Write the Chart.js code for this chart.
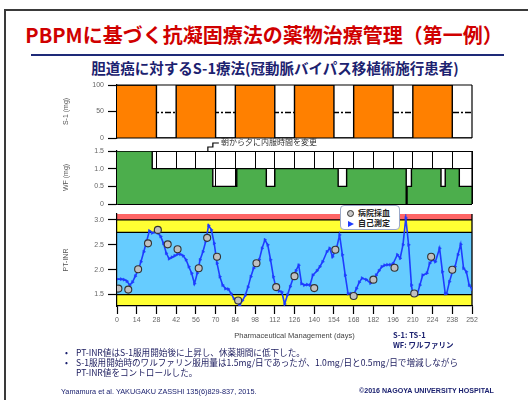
<!DOCTYPE html>
<html lang="ja">
<head>
<meta charset="utf-8">
<title>PBPM 抗凝固療法</title>
<script src="https://cdn.jsdelivr.net/npm/chart.js@4.4.1/dist/chart.umd.min.js"></script>
<style>
  html, body { margin: 0; padding: 0; background: #fff; }
  body { width: 528px; height: 400px; position: relative; overflow: hidden;
         font-family: "Noto Sans CJK JP", "Noto Sans", sans-serif; }
  .frame { position: absolute; left: 4px; top: 9px; width: 600px; height: 500px;
           border-left: 2px solid #3a3a3a; border-top: 2px solid #3a3a3a; }
  .title { position: absolute; left: 0; width: 528px; top: 21px; text-align: center;
           color: #d00000; font-weight: 700; font-size: 20px; line-height: 28px; white-space: nowrap; }
  .rule { position: absolute; left: 31px; width: 473px; top: 54px; height: 2px; background: #1e2a78; }
  .subtitle { position: absolute; left: 22px; width: 506px; top: 60px; text-align: center;
              color: #1c2270; font-weight: 700; font-size: 14.5px; line-height: 16px; white-space: nowrap; }
  canvas { position: absolute; left: 0; top: 0; }
  .legend { position: absolute; left: 340px; top: 205px; width: 60px; height: 25px; box-sizing: border-box;
            background: #fff; border: 1px solid #9aa8c8; border-radius: 4px; z-index: 5;
            font-size: 8px; font-weight: 700; color: #222; line-height: 10px; padding: 2px 0 0 6px; }
  .legend div { height: 10px; white-space: nowrap; }
  .mk { display: inline-block; vertical-align: middle; margin-right: 4px; }
  .circ { width: 5px; height: 5px; border: 1px solid #333; border-radius: 50%; background: #c8c8c8; }
  .tri { width: 0; height: 0; border-top: 3.5px solid transparent; border-bottom: 3.5px solid transparent;
         border-left: 6px solid #1e3cff; margin-left: 1px; }
  .note { position: absolute; left: 221px; top: 137px; font-size: 8px; line-height: 10px; color: #333;
          white-space: nowrap; z-index: 5; }
  .abbr { position: absolute; left: 393px; top: 330px; font-size: 7.5px; line-height: 9.5px;
          font-weight: 700; color: #1c2270; }
  .bullets { position: absolute; left: 64px; top: 347px; font-size: 8.6px; line-height: 10px; color: #1c1c5e; }
  .bullets div { position: relative; padding-left: 12px; white-space: nowrap; }
  .bullets div.b::before { content: "\2022"; position: absolute; left: 1px; top: 0; color: #1c2270; }
  .cite { position: absolute; left: 61px; top: 387px; font-family: "Liberation Sans", Arial, sans-serif;
          font-size: 7.3px; line-height: 9px; color: #1c2270; white-space: nowrap; }
  .copy { position: absolute; left: 359px; top: 387px; font-family: "Liberation Sans", Arial, sans-serif;
          font-size: 7.1px; line-height: 9px; font-weight: 700; color: #1c2270; white-space: nowrap; }
</style>
</head>
<body>
<div class="frame"></div>
<div class="title">PBPMに基づく抗凝固療法の薬物治療管理（第一例）</div>
<div class="rule"></div>
<div class="subtitle">胆道癌に対するS-1療法(冠動脈バイパス移植術施行患者)</div>

<canvas id="s1Chart" width="528" height="400"></canvas>
<canvas id="wfChart" width="528" height="400"></canvas>
<canvas id="inrChart" width="528" height="400"></canvas>

<div class="note">朝から夕に内服時間を変更</div>
<div class="legend">
  <div><span class="mk circ"></span>病院採血</div>
  <div><span class="mk tri"></span>自己測定</div>
</div>
<div class="abbr">S-1: TS-1<br>WF: ワルファリン</div>
<div class="bullets">
  <div class="b">PT-INR値はS-1服用開始後に上昇し、休薬期間に低下した。</div>
  <div class="b">S-1服用開始時のワルファリン服用量は1.5mg/日であったが、1.0mg/日と0.5mg/日で増減しながら</div>
  <div>PT-INR値をコントロールした。</div>
</div>
<div class="cite">Yamamura et al. YAKUGAKU ZASSHI 135(6)829-837, 2015.</div>
<div class="copy">©2016 NAGOYA UNIVERSITY HOSPITAL</div>

<script>
// shared day axis (Pharmaceutical Management, days)
const xTicks = [0, 14, 28, 42, 56, 70, 84, 98, 112, 126, 140, 154, 168, 182, 196, 210, 224, 238, 252];

// S-1 (mg): dose from each day until the next entry
const s1Days = [0, 28, 42, 70, 84, 112, 126, 154, 168, 196, 210, 238, 252];
const s1Dose = [100, 0, 100, 0, 100, 0, 100, 0, 100, 0, 100, 0, 0];
const s1Ticks = [0, 50, 100];
const s1RefLine = 50;

// Warfarin (mg/day): dose from each day until the next entry
const wfDays = [0, 25, 68, 85, 106, 112, 157, 163, 205.3, 205.9, 209, 230, 233, 243, 252];
const wfDose = [1.5, 1.0, 0.5, 1.0, 0.5, 1.0, 0.5, 1.0, 0, 0.5, 1.0, 0.5, 1.0, 0.5, 0.5];
const wfTicks = [0, 0.5, 1.0, 1.5];
const timingChangeDay = 64.5;

// PT-INR, self measured
const selfDays = [0, 3, 5, 7, 9, 11, 13, 15, 17, 19,
  21, 23, 25, 27, 29, 31, 33, 35, 37, 39,
  41, 43, 45, 47, 49, 51, 53, 55, 57, 59,
  61, 63, 65, 67, 69, 71, 73, 75, 77, 79,
  81, 83, 85, 87, 89, 91, 93, 95, 97, 99,
  101, 103, 105, 107, 109, 111, 113, 115, 117, 119,
  121, 123, 125, 127, 129, 131, 133, 135, 137, 139,
  142, 144, 146, 149, 151, 153, 156, 158, 160, 162,
  164, 166, 168, 170, 172, 174, 177, 180, 182, 184,
  186, 188, 190, 192, 194, 196, 199, 201, 203, 205,
  207, 209, 210, 213, 215, 217, 220, 222, 224, 226,
  229, 231, 233, 234, 236, 238, 240, 242, 244, 246,
  248, 250, 252];
const selfInr = [1.81, 1.81, 1.80, 1.77, 1.69, 1.75, 1.87, 1.99, 2.16, 2.36,
  2.57, 2.78, 2.74, 2.76, 2.74, 2.67, 2.53, 2.33, 2.22, 2.25,
  2.28, 2.31, 2.31, 2.28, 2.20, 2.06, 1.93, 1.72, 1.93, 2.20,
  2.36, 2.57, 2.89, 2.80, 2.53, 2.13, 1.86, 1.69, 1.62, 1.61,
  1.52, 1.42, 1.35, 1.28, 1.38, 1.48, 1.65, 1.86, 2.03, 2.11,
  2.20, 2.43, 2.60, 2.50, 2.20, 1.86, 1.62, 1.57, 1.55, 1.31,
  1.49, 1.66, 1.83, 1.98, 2.09, 1.72, 1.69, 1.70, 1.69, 1.89,
  1.98, 2.06, 2.16, 2.36, 2.43, 2.26, 2.45, 2.70, 2.30, 1.89,
  1.52, 1.52, 1.50, 1.62, 1.75, 1.83, 1.80, 1.73, 1.78, 1.89,
  1.98, 2.06, 2.09, 2.10, 2.10, 2.12, 2.30, 2.23, 2.50, 3.04,
  2.50, 1.69, 1.50, 1.49, 1.69, 1.89, 1.93, 2.13, 2.20, 2.16,
  2.43, 1.96, 1.52, 1.52, 1.76, 1.95, 2.06, 2.30, 2.51, 2.03,
  1.96, 1.69, 1.61];

// PT-INR, hospital blood test
const hospDays = [1, 8, 15, 22, 29, 36, 43, 58, 64, 71, 86, 99, 113, 126, 140, 155, 168, 182, 197, 211, 223, 238];
const hospInr = [1.62, 1.60, 2.01, 2.53, 2.80, 2.51, 2.41, 2.03, 2.64, 2.26, 1.38, 2.13, 1.65, 1.87, 1.63, 2.40, 1.47, 1.80, 2.04, 1.52, 2.26, 2.00];
const inrTicks = [1.5, 2.0, 2.5, 3.0];
const inrMin = 1.27;
const inrMax = 3.12;

// PT-INR background ranges
const bandFrom = [1.27, 1.5, 2.75, 3.0];
const bandTo = [1.5, 2.75, 3.0, 3.12];
const bandColors = ["#ffff33", "#66ccff", "#ffff33", "#ff6666"];
const bandLines = [1.5, 2.75, 3.0];

const PAD_LEFT = 62;
const PLOT_LEFT = 117;
const PLOT_RIGHT = 472;
const tickFont = { family: "'Liberation Sans', Arial, sans-serif", size: 7 };
const tickColor = "#666";

function fixedTicks(values) {
  return (scale) => { scale.ticks = values.map((v) => ({ value: v })); };
}

function fmtTick(v) {
  if (v === 0) return "0";
  return v >= 10 ? String(v) : v.toFixed(1);
}

function leftAxis(min, max, ticks, title, grid) {
  return {
    type: "linear",
    position: "left",
    min, max,
    afterBuildTicks: fixedTicks(ticks),
    afterFit: (s) => { s.width = PLOT_LEFT - PAD_LEFT; },
    border: { display: true, color: "#000", width: 1.2 },
    grid: Object.assign({ drawTicks: true, tickLength: 9, tickColor: "#000", tickWidth: 1.2, drawOnChartArea: false }, grid || {}),
    ticks: { font: tickFont, color: tickColor, padding: 4, callback: fmtTick },
    title: { display: true, text: title, color: "#555", font: { family: tickFont.family, size: 7 }, padding: { top: 0, bottom: 0 } }
  };
}

function pts(xs, ys) {
  return xs.map((x, i) => ({ x, y: ys[i] }));
}

// Draws solid edges of the plot area
const framePlugin = {
  id: "frame",
  afterDatasetsDraw(chart, args, opts) {
    const { ctx, chartArea: a } = chart;
    ctx.save();
    ctx.strokeStyle = "#000";
    ctx.lineWidth = 1.2;
    ctx.beginPath();
    (opts.sides || []).forEach((s) => {
      if (s === "top") { ctx.moveTo(a.left, a.top); ctx.lineTo(a.right, a.top); }
      if (s === "bottom") { ctx.moveTo(a.left, a.bottom); ctx.lineTo(a.right, a.bottom); }
      if (s === "right") { ctx.moveTo(a.right, a.top); ctx.lineTo(a.right, a.bottom); }
    });
    ctx.stroke();
    ctx.restore();
  }
};

// Dash-dot reference line under the S-1 bars
const refLinePlugin = {
  id: "refLine",
  beforeDatasetsDraw(chart) {
    const { ctx, chartArea: a, scales: { y } } = chart;
    const py = Math.round(y.getPixelForValue(s1RefLine)) + 0.5;
    ctx.save();
    ctx.strokeStyle = "#000";
    ctx.lineWidth = 1.3;
    ctx.setLineDash([6, 2, 2, 2]);
    ctx.beginPath();
    ctx.moveTo(a.left, py);
    ctx.lineTo(a.right, py);
    ctx.stroke();
    ctx.restore();
  }
};

// Coloured PT-INR ranges behind the curve
const bandPlugin = {
  id: "bands",
  beforeDraw(chart) {
    const { ctx, chartArea: a, scales: { y } } = chart;
    ctx.save();
    bandFrom.forEach((lo, i) => {
      const top = y.getPixelForValue(bandTo[i]);
      const bot = y.getPixelForValue(lo);
      ctx.fillStyle = bandColors[i];
      ctx.fillRect(a.left, top, a.right - a.left, bot - top);
    });
    ctx.strokeStyle = "#000";
    ctx.lineWidth = 1.3;
    ctx.beginPath();
    bandLines.forEach((v) => {
      const py = y.getPixelForValue(v);
      ctx.moveTo(a.left, py);
      ctx.lineTo(a.right, py);
    });
    ctx.moveTo(a.right, a.top);
    ctx.lineTo(a.right, a.bottom);
    ctx.stroke();
    ctx.restore();
  }
};

// Bracket pointing at the day the dosing time changed
const timingPlugin = {
  id: "timing",
  afterDraw(chart) {
    const { ctx, scales: { x, y } } = chart;
    const px = x.getPixelForValue(timingChangeDay);
    const top = y.getPixelForValue(1.5);
    ctx.save();
    ctx.strokeStyle = "#000";
    ctx.lineWidth = 1.2;
    ctx.beginPath();
    ctx.moveTo(px, top + 1);
    ctx.lineTo(px, top - 4);
    ctx.lineTo(px + 5, top - 4);
    ctx.lineTo(px + 5, top - 8);
    ctx.lineTo(px + 11, top - 8);
    ctx.stroke();
    ctx.restore();
  }
};

const baseOptions = (top, bottom) => ({
  animation: false,
  responsive: false,
  layout: { padding: { left: PAD_LEFT, right: 528 - PLOT_RIGHT, top, bottom } },
  plugins: { legend: { display: false }, tooltip: { enabled: false } }
});

// ── S-1 ──────────────────────────────────────────────
const s1Opts = baseOptions(85, 400 - 138);
s1Opts.plugins.frame = { sides: ["top", "bottom", "right"] };
s1Opts.scales = {
  x: { type: "linear", min: 0, max: 252, display: false },
  y: leftAxis(0, 100, s1Ticks, "S-1 (mg)")
};
new Chart(document.getElementById("s1Chart"), {
  type: "line",
  data: {
    datasets: [{
      data: pts(s1Days, s1Dose),
      stepped: true,
      borderColor: "#000",
      borderWidth: 1.4,
      backgroundColor: "#ff8000",
      fill: "origin",
      pointRadius: 0
    }]
  },
  options: s1Opts,
  plugins: [refLinePlugin, framePlugin]
});

// ── Warfarin ─────────────────────────────────────────
const wfOpts = baseOptions(151, 400 - 204);
wfOpts.plugins.frame = { sides: ["right"] };
wfOpts.scales = {
  x: {
    type: "linear", min: 0, max: 252,
    afterBuildTicks: fixedTicks(xTicks),
    afterFit: (s) => { s.height = 0; },
    ticks: { display: false },
    border: { display: false },
    grid: { color: "#000", lineWidth: 1, borderDash: [2, 2], drawTicks: false }
  },
  y: leftAxis(0, 1.5, wfTicks, "WF (mg)", { drawOnChartArea: true, color: "#000", borderDash: [2, 2], lineWidth: 1 })
};
new Chart(document.getElementById("wfChart"), {
  type: "line",
  data: {
    datasets: [{
      data: pts(wfDays, wfDose),
      stepped: true,
      borderColor: "#000",
      borderWidth: 1.4,
      backgroundColor: "#4cae4c",
      fill: "origin",
      pointRadius: 0
    }]
  },
  options: wfOpts,
  plugins: [framePlugin, timingPlugin]
});

// ── PT-INR ───────────────────────────────────────────
const inrOpts = baseOptions(214, 400 - 306 - 36);
inrOpts.scales = {
  x: {
    type: "linear", min: 0, max: 252,
    afterBuildTicks: fixedTicks(xTicks),
    afterFit: (s) => { s.height = 36; },
    border: { display: true, color: "#000", width: 1.2 },
    grid: { drawOnChartArea: false, drawTicks: true, tickLength: 8, tickColor: "#000", tickWidth: 1.2 },
    ticks: { font: tickFont, color: tickColor, padding: 2, maxRotation: 0, autoSkip: false },
    title: {
      display: true, text: "Pharmaceutical Management (days)", color: "#444",
      font: { family: tickFont.family, size: 7.5 }, padding: { top: 0, bottom: 2 }
    }
  },
  y: leftAxis(inrMin, inrMax, inrTicks, "PT-INR")
};
new Chart(document.getElementById("inrChart"), {
  type: "line",
  data: {
    datasets: [{
      label: "病院採血",
      data: pts(hospDays, hospInr),
      showLine: false,
      pointStyle: "circle",
      pointRadius: 3.5,
      pointBackgroundColor: "#c0c0c0",
      pointBorderColor: "#333",
      pointBorderWidth: 1.1,
      order: 0
    }, {
      label: "自己測定",
      data: pts(selfDays, selfInr),
      borderColor: "#1e3cff",
      borderWidth: 1.6,
      tension: 0,
      pointStyle: "triangle",
      rotation: 90,
      pointRadius: 1.8,
      pointBackgroundColor: "#1e3cff",
      pointBorderColor: "#1e3cff",
      pointBorderWidth: 0.5,
      order: 1
    }]
  },
  options: inrOpts,
  plugins: [bandPlugin]
});
</script>
</body>
</html>
